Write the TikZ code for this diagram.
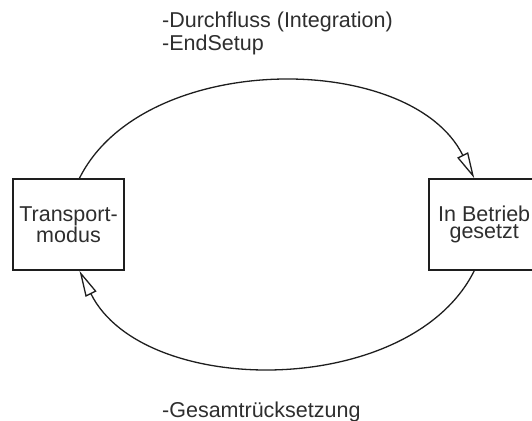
\documentclass[tikz,border=0pt]{standalone}
\usepackage{fontspec}
\setmainfont{Liberation Sans}
\usepackage{xcolor}
\usepackage{tikz}
\usetikzlibrary{arrows.meta, positioning}

\definecolor{inkgray}{HTML}{1E1E1E}
\definecolor{textgray}{HTML}{2E2E2E}

\begin{document}
\begin{tikzpicture}[
    x=1pt, y=1pt,
    statebox/.style={rectangle, draw=inkgray, line width=1.7pt, minimum width=111pt, minimum height=91pt, inner sep=1pt, align=center, text=textgray, font=\fontsize{21.5}{17}\selectfont},
    trans/.style={-{Triangle[open, length=26pt, width=12pt]}, line width=1.3pt, draw=inkgray},
    translabel/.style={font=\fontsize{21.5}{23}\selectfont, text=textgray, align=left, inner sep=0pt},
  ]
  \useasboundingbox (0,0) rectangle (532,420);

  % States
  \node[statebox] (transport) at (68.5,195.5) {Transport-\\modus};
  \node[statebox, right=303pt of transport] (betrieb) {In Betrieb\\gesetzt};

  % Transitions
  \draw[trans] ([xshift=11pt]transport.north) to[out=63.5, in=116.5, looseness=0.93] ([xshift=-10pt]betrieb.north);
  \draw[trans] ([xshift=-10pt]betrieb.south) to[out=-116.5, in=-63.5, looseness=0.93] ([xshift=11pt]transport.south);

  % Labels
  \node[translabel, anchor=north west] (toplabel) at (162,408) {-Durchfluss (Integration)\\-EndSetup};
  \node[translabel, anchor=base west] (bottomlabel) at (162,3) {-Gesamtrücksetzung};

\end{tikzpicture}
\end{document}
